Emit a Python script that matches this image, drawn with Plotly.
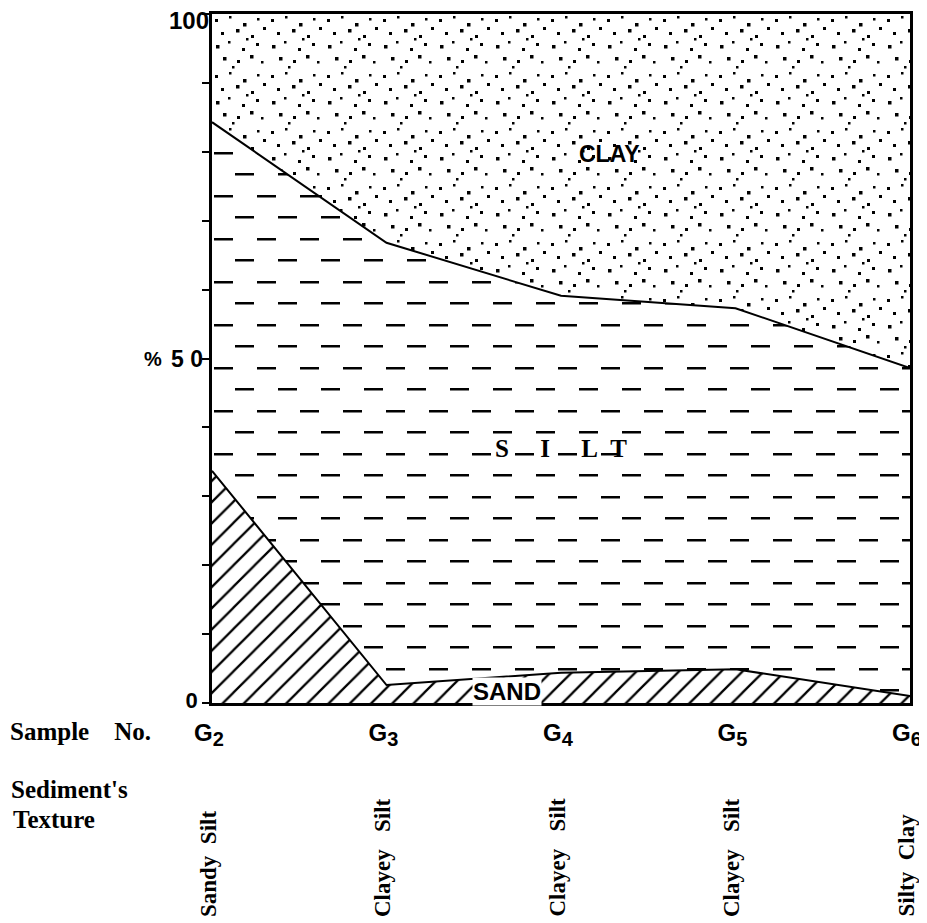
import plotly.graph_objects as go

# ---- data ----
samples = ["G2", "G3", "G4", "G5", "G6"]
sample_labels = ["G<sub><span style='font-size:20px'>%s</span></sub>" % d for d in ["2", "3", "4", "5", "6"]]
sand = [33.7, 2.6, 4.4, 4.9, 1.0]
silt = [50.6, 64.2, 54.7, 52.4, 47.6]
clay = [15.7, 33.2, 40.9, 42.7, 51.4]
textures = ["Sandy\u00a0\u00a0Silt", "Clayey\u00a0\u00a0\u00a0Silt", "Clayey\u00a0\u00a0\u00a0Silt",
            "Clayey\u00a0\u00a0\u00a0Silt", "Silty\u00a0\u00a0Clay"]
y_tickvals = [0, 10, 20, 30, 40, 50, 60, 70, 80, 90, 100]
y_ticktext = ["0", "", "", "", "", "", "", "", "", "", ""]
top_label = "100"
mid_label = "5\u00a00"
unit_label = "%"

sand_top = sand
silt_top = [a + b for a, b in zip(sand, silt)]
clay_top = [a + b for a, b in zip(silt_top, clay)]

SANS = "Liberation Sans, Arial, sans-serif"
SERIF = "Liberation Serif, Times New Roman, serif"
NONE = "rgba(0,0,0,0)"

# ---- fill textures (decoration only) ----
SILT_TILE = 43
silt_path = "M2,9h19v2.6h-19Z M23,30h19v2.6h-19Z"
CLAY_TILE = 56
dot_spec = [(3, 5, 3), (17, 2, 2.5), (31, 9, 3.5), (45, 4, 2.5), (9, 18, 3), (24, 15, 3.5),
            (39, 21, 3), (51, 13, 3), (4, 31, 3.5), (16, 27, 2.5), (30, 34, 3), (44, 29, 3),
            (11, 43, 3.5), (25, 46, 3), (38, 41, 3.5), (49, 47, 2.5), (20, 52, 2.5), (34, 24, 2.5)]
clay_path = " ".join("M%s,%sh%sv%sh-%sZ" % (x, y, s, s, s) for x, y, s in dot_spec)


def make_pattern(path, tile, fallback_shape, fallback_size, fallback_solidity):
    try:
        return go.scatter.Fillpattern(path=path, size=tile, fgcolor="black", bgcolor="white",
                                      fgopacity=1)
    except (ValueError, TypeError):
        return go.scatter.Fillpattern(shape=fallback_shape, size=fallback_size,
                                      solidity=fallback_solidity, fgcolor="black",
                                      bgcolor="white", fgopacity=1)


silt_pattern = make_pattern(silt_path, SILT_TILE, "-", 21.5, 0.1)
clay_pattern = make_pattern(clay_path, CLAY_TILE, ".", 14, 0.06)

fig = go.Figure()
# sand (hatched)
fig.add_trace(go.Scatter(x=samples, y=sand_top, mode="lines", line=dict(width=0),
                         fill="tozeroy", fillcolor=NONE,
                         fillpattern=dict(shape="/", fgcolor="black", bgcolor="white",
                                          fgopacity=1, size=15, solidity=0.15),
                         hoverinfo="skip"))
# silt (horizontal dashes)
fig.add_trace(go.Scatter(x=samples, y=silt_top, mode="lines", line=dict(width=0),
                         fill="tonexty", fillcolor=NONE, fillpattern=silt_pattern,
                         hoverinfo="skip"))
# clay (stipple)
fig.add_trace(go.Scatter(x=samples, y=clay_top, mode="lines", line=dict(width=0),
                         fill="tonexty", fillcolor=NONE, fillpattern=clay_pattern,
                         hoverinfo="skip"))
# boundary lines
fig.add_trace(go.Scatter(x=samples, y=silt_top, mode="lines",
                         line=dict(color="black", width=2), hoverinfo="skip"))
fig.add_trace(go.Scatter(x=samples, y=sand_top, mode="lines",
                         line=dict(color="black", width=2), hoverinfo="skip"))

# page geometry (page is offset by the default 8px body margin)
OFF = 8
PAGE_W, PAGE_H = 927, 923
L, T, B, R = 212, 14, 703, 910
PW, PH = R - L, B - T


def px_x(px):
    return (px - L) / PW


def px_y(py):
    return (B - py) / PH


ann = []
ann.append(dict(text=top_label, xref="paper", yref="paper",
                x=px_x(211), y=px_y(20), xanchor="right", yanchor="middle", showarrow=False,
                font=dict(family=SANS, size=24, color="black", weight="bold")))
ann.append(dict(text=mid_label, xref="paper", yref="paper",
                x=px_x(205), y=px_y(359), xanchor="right", yanchor="middle", showarrow=False,
                font=dict(family=SANS, size=23, color="black", weight="bold")))
ann.append(dict(text=unit_label, xref="paper", yref="paper",
                x=px_x(164), y=px_y(359), xanchor="right", yanchor="middle", showarrow=False,
                font=dict(family=SANS, size=20, color="black", weight="bold")))
ann.append(dict(text="Sample\u00a0\u00a0\u00a0\u00a0No.", xref="paper", yref="paper",
                x=px_x(8), y=px_y(731), xanchor="left", yanchor="middle", showarrow=False,
                font=dict(family=SERIF, size=25, color="black", weight="bold")))
ann.append(dict(text="Sediment's", xref="paper", yref="paper",
                x=px_x(9), y=px_y(789), xanchor="left", yanchor="middle", showarrow=False,
                font=dict(family=SERIF, size=25, color="black", weight="bold")))
ann.append(dict(text="Texture", xref="paper", yref="paper",
                x=px_x(11), y=px_y(819), xanchor="left", yanchor="middle", showarrow=False,
                font=dict(family=SERIF, size=25, color="black", weight="bold")))
for s, t in zip(samples, textures):
    ann.append(dict(text=t, xref="x", yref="paper", x=s, y=px_y(919), xshift=-4,
                    xanchor="center", yanchor="bottom", textangle=-90, showarrow=False,
                    font=dict(family=SERIF, size=23, color="black", weight="bold")))
ann.append(dict(text="CLAY", xref="x", yref="y", x=2.28, y=79.7, showarrow=False,
                font=dict(family=SANS, size=23, color="black", weight="bold")))
ann.append(dict(text="S\u00a0\u00a0\u00a0\u00a0\u00a0I\u00a0\u00a0\u00a0\u00a0\u00a0L\u00a0\u00a0T",
                xref="x", yref="y", x=2.0, y=37.0, showarrow=False,
                font=dict(family=SERIF, size=25, color="black", weight="bold")))
ann.append(dict(text="SAND", xref="x", yref="y", x=1.69, y=1.6, showarrow=False,
                bgcolor="white", borderpad=0,
                font=dict(family=SANS, size=24, color="black", weight="bold")))

fig.update_layout(
    width=PAGE_W - OFF, height=PAGE_H - OFF,
    margin=dict(l=L - OFF, r=PAGE_W - R, t=T - OFF, b=PAGE_H - B, pad=0),
    autosize=False,
    paper_bgcolor="white", plot_bgcolor="white",
    showlegend=False,
    annotations=ann,
    xaxis=dict(type="category", range=[0, 4], showgrid=False, zeroline=False,
               showline=True, linecolor="black", linewidth=2.5, mirror=True,
               automargin=False,
               ticks="", tickvals=samples, ticktext=sample_labels,
               ticklabelstandoff=6, ticklabelshift=-3,
               tickfont=dict(family=SANS, size=24, color="black", weight="bold")),
    yaxis=dict(range=[0, 100], showgrid=False, zeroline=False,
               showline=True, linecolor="black", linewidth=2.5, mirror=True,
               automargin=False,
               ticks="outside", ticklen=7, tickwidth=2, tickcolor="black",
               tickvals=y_tickvals, ticktext=y_ticktext, ticklabelshift=-3,
               tickfont=dict(family=SANS, size=22, color="black", weight="bold")),
)

fig.write_html("out.html")
